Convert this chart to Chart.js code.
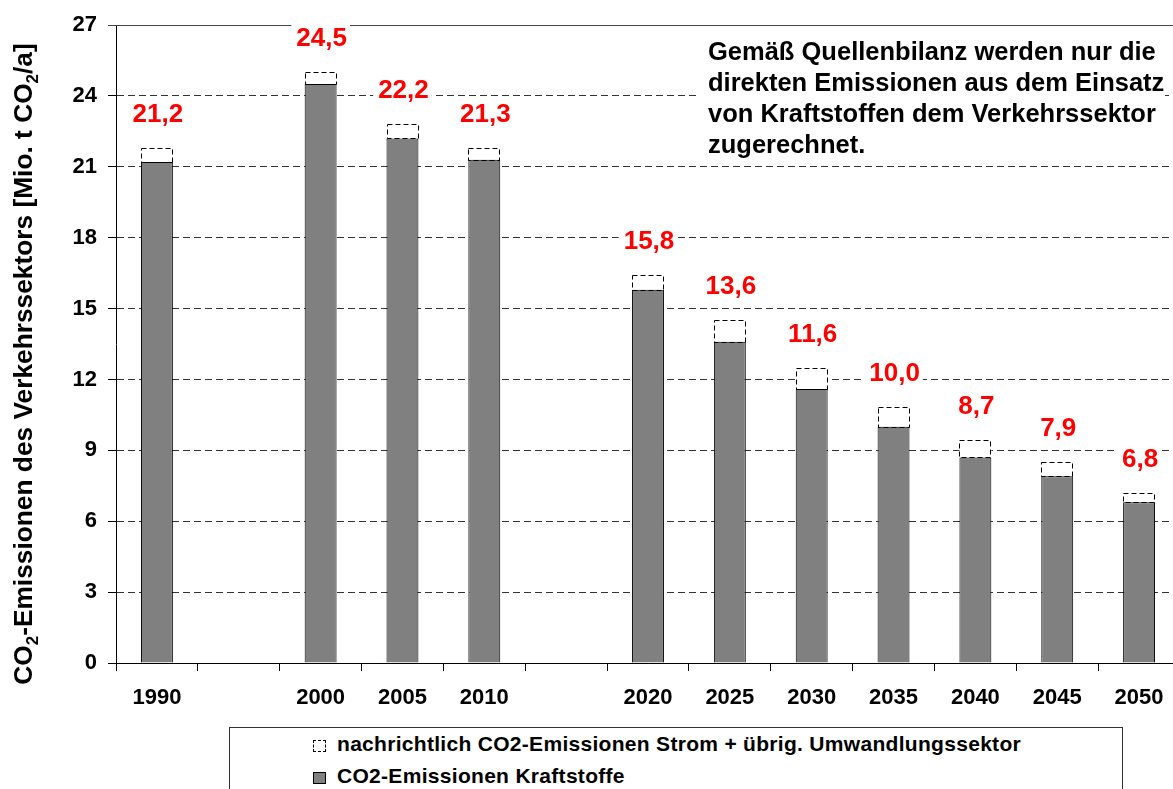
<!DOCTYPE html>
<html>
<head>
<meta charset="utf-8">
<script src="https://cdn.jsdelivr.net/npm/chart.js@4/dist/chart.umd.min.js"></script>
<style>
  html, body { margin: 0; padding: 0; background: #fff; overflow: hidden; }
  #wrap { position: relative; width: 1173px; height: 789px; overflow: hidden; }
  #chart { position: absolute; left: 0; top: 0; }
  #legend {
    position: absolute; left: 229px; top: 727px; width: 894px; height: 90px;
    border: 1px solid #333; background: #fff; box-sizing: border-box;
    padding-left: 83px;
    font: bold 21px 'Liberation Sans', Arial, sans-serif; letter-spacing: 0.3px; color: #000;
  }
  #legend .row { height: 32px; line-height: 32px; white-space: nowrap; }
  #legend .box { display: inline-block; width: 13px; height: 12px; box-sizing: border-box; margin-right: 11px; vertical-align: -1px; }
</style>
</head>
<body>
<div id="wrap">
  <canvas id="chart" width="1180" height="789"></canvas>
  <div id="legend"></div>
</div>
<script>
// categories (empty slots keep the gaps between 1990/2000 and 2010/2020)
const years = ['1990', '', '2000', '2005', '2010', '', '2020', '2025', '2030', '2035', '2040', '2045', '2050'];
// CO2-Emissionen Kraftstoffe (labelled values)
const kraftstoffe = [21.2, null, 24.5, 22.2, 21.3, null, 15.8, 13.6, 11.6, 10.0, 8.7, 7.9, 6.8];
// nachrichtlich: Strom + übrig. Umwandlungssektor (dashed part on top)
const stromUmwandlung = [0.6, null, 0.5, 0.6, 0.5, null, 0.6, 0.9, 0.9, 0.85, 0.75, 0.6, 0.4];
const yMax = 27;
const yStep = 3;

const noteLines = [
  'Gemäß Quellenbilanz werden nur die',
  'direkten Emissionen aus dem Einsatz',
  'von Kraftstoffen dem Verkehrssektor',
  'zugerechnet.'
];

const FONT = "'Liberation Sans', Arial, sans-serif";
Chart.defaults.font.family = FONT;

// dashed outline for the "nachrichtlich" part, solid top line, value labels, note, y title
const extras = {
  id: 'extras',
  beforeDatasetsDraw(chart) {
    const { ctx, chartArea, scales: { y } } = chart;
    const top = Math.round(y.getPixelForValue(yMax)) + 0.5;
    ctx.save();
    ctx.strokeStyle = '#444';
    ctx.lineWidth = 1;
    ctx.beginPath();
    ctx.moveTo(chartArea.left - 8, top);
    ctx.lineTo(chartArea.right, top);
    ctx.stroke();
    ctx.restore();
  },
  afterDatasetsDraw(chart) {
    const { ctx } = chart;
    const upper = chart.getDatasetMeta(1);
    ctx.save();
    // dashed boxes
    ctx.strokeStyle = '#000';
    ctx.lineWidth = 1;
    ctx.setLineDash([5, 3]);
    upper.data.forEach((el, i) => {
      if (stromUmwandlung[i] == null) return;
      const x0 = Math.round(el.x - el.width / 2) + 0.5;
      const w = Math.round(el.width) - 1;
      const y0 = Math.round(el.y) + 0.5;
      const h = Math.round(el.base) - Math.round(el.y);
      ctx.strokeRect(x0, y0, w, h);
    });
    ctx.setLineDash([]);
    // red value labels with white background
    ctx.font = 'bold 26px ' + FONT;
    ctx.textAlign = 'center';
    ctx.textBaseline = 'alphabetic';
    upper.data.forEach((el, i) => {
      if (kraftstoffe[i] == null) return;
      const txt = kraftstoffe[i].toFixed(1).replace('.', ',');
      const cy = el.y - 35;
      const tw = ctx.measureText(txt).width;
      ctx.fillStyle = '#fff';
      ctx.fillRect(el.x - tw / 2 - 4, cy - 14, tw + 8, 28);
      ctx.fillStyle = '#ff0000';
      ctx.fillText(txt, el.x + 1, cy + 9);
    });
    ctx.restore();
  },
  afterDraw(chart) {
    const { ctx, chartArea } = chart;
    ctx.save();
    // note box top right
    ctx.fillStyle = '#fff';
    ctx.fillRect(699, 30, 466, 133);
    ctx.fillStyle = '#000';
    ctx.font = 'bold 25.5px ' + FONT;
    ctx.textAlign = 'left';
    ctx.textBaseline = 'alphabetic';
    noteLines.forEach((line, i) => ctx.fillText(line, 708, 60 + i * 31));

    // y axis title with subscripts
    const parts = [
      ['CO', false], ['2', true], ['-Emissionen des Verkehrssektors [Mio. t CO', false], ['2', true], ['/a]', false]
    ];
    const big = 'bold 26.3px ' + FONT;
    const small = 'bold 17px ' + FONT;
    let total = 0;
    parts.forEach(([t, sub]) => { ctx.font = sub ? small : big; total += ctx.measureText(t).width; });
    const cy = (chartArea.top + chartArea.bottom) / 2 + 20;
    ctx.translate(0, cy);
    ctx.rotate(-Math.PI / 2);
    let u = -total / 2;
    parts.forEach(([t, sub]) => {
      ctx.font = sub ? small : big;
      ctx.fillText(t, u, sub ? 38 : 32);
      u += ctx.measureText(t).width;
    });
    ctx.restore();
  }
};

const chart = new Chart(document.getElementById('chart'), {
  type: 'bar',
  data: {
    labels: years,
    datasets: [{
      label: 'CO2-Emissionen Kraftstoffe',
      data: kraftstoffe,
      backgroundColor: '#808080',
      borderColor: '#000',
      borderWidth: 1,
      barPercentage: 0.39,
      categoryPercentage: 1.0
    }, {
      label: 'nachrichtlich CO2-Emissionen Strom + übrig. Umwandlungssektor',
      data: stromUmwandlung,
      backgroundColor: '#fff',
      borderWidth: 0,
      barPercentage: 0.39,
      categoryPercentage: 1.0
    }]
  },
  options: {
    responsive: false,
    animation: false,
    layout: { padding: { top: 25, left: 0, right: 0, bottom: 0 } },
    plugins: {
      legend: { display: false },
      tooltip: { enabled: false }
    },
    scales: {
      x: {
        stacked: true,
        offset: true,
        grid: { offset: true, drawOnChartArea: false, tickLength: 8, tickColor: '#000', color: '#000' },
        border: { color: '#000', width: 1 },
        ticks: { color: '#000', font: { size: 22, weight: 'bold' }, padding: 14, maxRotation: 0, autoSkip: false },
        afterFit: s => { s.height = 126; }
      },
      y: {
        stacked: true,
        min: 0,
        max: yMax,
        grid: { color: '#333', lineWidth: 1, tickColor: '#000', tickLength: 8 },
        border: { color: '#000', width: 1, dash: [7, 4] },
        ticks: { stepSize: yStep, color: '#000', font: { size: 22, weight: 'bold' }, padding: 11 },
        afterFit: s => { s.width = 116; }
      }
    }
  },
  plugins: [extras]
});

// html legend built from the datasets (upper part first)
const legendEl = document.getElementById('legend');
chart.data.datasets.slice().reverse().forEach((ds, i) => {
  const row = document.createElement('div');
  row.className = 'row';
  const box = document.createElement('span');
  box.className = 'box';
  if (i === 0) {
    box.style.border = '1px dashed #000';
    box.style.background = '#fff';
  } else {
    box.style.border = '1px solid #000';
    box.style.background = ds.backgroundColor;
  }
  row.appendChild(box);
  row.appendChild(document.createTextNode(ds.label));
  legendEl.appendChild(row);
});
</script>
</body>
</html>
